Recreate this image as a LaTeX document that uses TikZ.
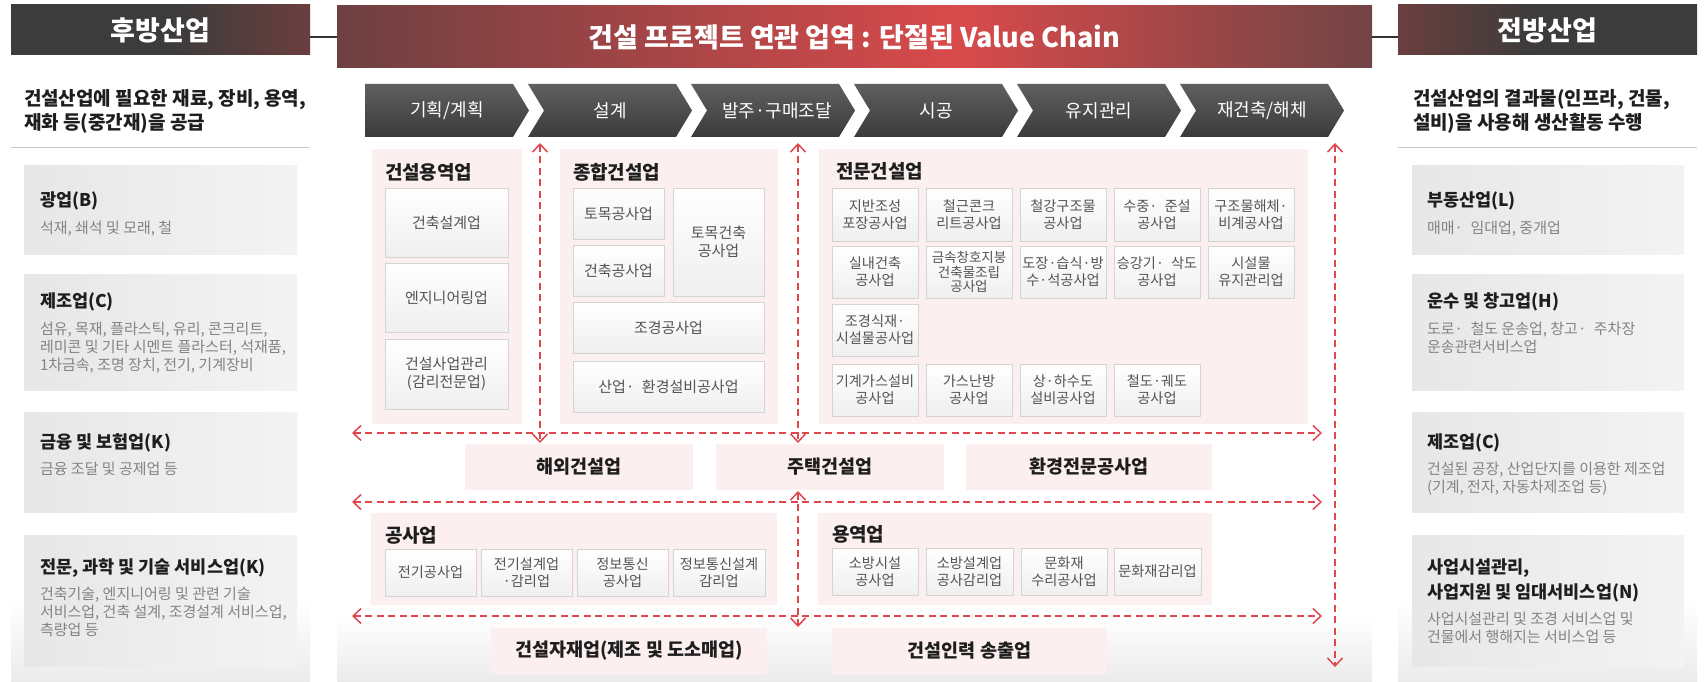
\documentclass[tikz,border=0pt]{standalone}
\usepackage{fontspec}
\setmainfont{Noto Sans CJK KR}
\usetikzlibrary{arrows.meta}
\definecolor{hdark}{HTML}{3C3C3C}
\definecolor{hbrown}{HTML}{6B3E3E}
\definecolor{cbrownL}{HTML}{6E4042}
\definecolor{cbrownR}{HTML}{724445}
\definecolor{hred}{HTML}{D94A4B}
\definecolor{pinkbg}{HTML}{FCEFEF}
\definecolor{arrowred}{HTML}{E0474D}
\definecolor{chevtop}{HTML}{5F5F5F}
\definecolor{chevbot}{HTML}{3B3B3B}
\definecolor{sideL}{HTML}{E7E7E7}
\definecolor{sideR}{HTML}{F3F3F3}
\definecolor{subbot}{HTML}{EFEFEF}
\definecolor{subline}{HTML}{D4D4D4}
\definecolor{subtxt}{HTML}{545454}
\definecolor{sidetxt}{HTML}{838383}
\definecolor{inktxt}{HTML}{1E1E1E}
\definecolor{panelgray}{HTML}{EBEBEB}
\definecolor{sepgray}{HTML}{C8C8C8}
\definecolor{hline}{HTML}{333333}
\pgfdeclarehorizontalshading{lhdrshade}{100bp}{color(0bp)=(hdark); color(25bp)=(hdark); color(52bp)=(hdark); color(75bp)=(hbrown); color(100bp)=(hbrown)}
\pgfdeclarehorizontalshading{rhdrshade}{100bp}{color(0bp)=(hbrown); color(25bp)=(hbrown); color(48bp)=(hdark); color(75bp)=(hdark); color(100bp)=(hdark)}
\pgfdeclarehorizontalshading{chdrshade}{100bp}{color(0bp)=(cbrownL); color(25bp)=(cbrownL); color(55bp)=(hred); color(75bp)=(cbrownR); color(100bp)=(cbrownR)}
\newcommand{\fsz}[2]{\fontsize{#1}{#2}\selectfont}
\newcommand{\mkbox}[7][]{%
  \pgfmathsetmacro{\rbcx}{(#3+#5)/2}%
  \pgfmathsetmacro{\rbcy}{(#4+#6)/2}%
  \pgfmathsetmacro{\rbw}{#5-#3}%
  \pgfmathsetmacro{\rbh}{#6-#4}%
  \node[#1, minimum width=\rbw pt, minimum height=\rbh pt] (#2) at (\rbcx,\rbcy) {#7};}
\newcommand{\chevpath}[2]{\shade[chevfill] (#1,84) -- ++(148,0) -- ++(16,26.5) -- ++(-16,26.5) -- ++(-148,0) -- ++(#2,-26.5) -- cycle;}
\tikzset{
  every node/.style={inner sep=0pt, outer sep=0pt},
  hdr/.style={shade, text=white, font=\bfseries\fsz{27}{30}},
  chevfill/.style={top color=chevtop, bottom color=chevbot},
  chevtext/.style={text=white, font=\fsz{18}{20}},
  pinksec/.style={fill=pinkbg, draw=none},
  sectitle/.style={anchor=base west, text=inktxt, font=\bfseries\fsz{19}{22}},
  subbox/.style={draw=subline, line width=0.8pt, top color=white, bottom color=subbot, text=subtxt, align=center, font=\fsz{15}{17.5}},
  tight/.style={font=\fsz{14.2}{16.8}},
  midbox/.style={fill=pinkbg, draw=none, text=inktxt, font=\bfseries\fsz{18.5}{21}},
  sidebox/.style={left color=sideL, right color=sideR, draw=none},
  sidehead/.style={anchor=base west, text=inktxt, font=\bfseries\fsz{19}{22}},
  sidetitle/.style={anchor=base west, text=inktxt, font=\bfseries\fsz{17.5}{20}},
  sidesub/.style={anchor=base west, text=sidetxt, font=\fsz{15}{17}},
  dasharrow/.style={draw=arrowred, line width=1.5pt, dash pattern=on 7pt off 4.5pt,
     arrows={Straight Barb[length=8pt,width=15pt]-Straight Barb[length=8pt,width=15pt]}},
  hdrline/.style={draw=hline, line width=1.5pt}
}
\begin{document}
\begin{tikzpicture}[x=1pt,y=-1pt]
\useasboundingbox (0,0) rectangle (1705,682);
% panel bottoms
\shade[top color=white,bottom color=panelgray] (11,600) rectangle (310,682);
\shade[top color=white,bottom color=panelgray] (1398,600) rectangle (1697,682);
\shade[top color=white,bottom color=panelgray] (337,615) rectangle (1372,682);
% headers
\mkbox[hdr, shading=lhdrshade]{lhdr}{11}{5}{310}{55}{후방산업}
\mkbox[hdr, shading=chdrshade]{chdr}{337}{6}{1372}{68}{건설 프로젝트 연관 업역 : 단절된 Value Chain}
\mkbox[hdr, shading=rhdrshade]{rhdr}{1398}{5}{1697}{55}{전방산업}
\draw[hdrline] (lhdr.east |- chdr.west) -- (chdr.west);
\draw[hdrline] (chdr.east) -- (rhdr.west |- chdr.east);
% ---------- left column
\node[sidehead] (lsub1) at (24,106) {건설산업에 필요한 재료, 장비, 용역,};
\node[sidehead] (lsub2) at (24,130) {재화 등(중간재)을 공급};
\draw[draw=sepgray, line width=0.8pt] (11,147) -- (310,147);
\mkbox[sidebox]{lb1}{24}{165}{297}{254}{}
\node[sidetitle] (lb1t) at (40,206) {광업(B)};
\node[sidesub] (lb1s) at (40,233) {석재, 쇄석 및 모래, 철};
\mkbox[sidebox]{lb2}{24}{274}{297}{390}{}
\node[sidetitle] (lb2t) at (40,307) {제조업(C)};
\node[sidesub] (lb2s1) at (40,334) {섬유, 목재, 플라스틱, 유리, 콘크리트,};
\node[sidesub] (lb2s2) at (40,352) {레미콘 및 기타 시멘트 플라스터, 석재품,};
\node[sidesub] (lb2s3) at (40,370) {1차금속, 조명 장치, 전기, 기계장비};
\mkbox[sidebox]{lb3}{24}{412}{297}{512}{}
\node[sidetitle] (lb3t) at (40,448) {금융 및 보험업(K)};
\node[sidesub] (lb3s) at (40,474) {금융 조달 및 공제업 등};
\mkbox[sidebox]{lb4}{24}{535}{297}{666}{}
\node[sidetitle] (lb4t) at (40,573) {전문, 과학 및 기술 서비스업(K)};
\node[sidesub] (lb4s1) at (40,599) {건축기술, 엔지니어링 및 관련 기술};
\node[sidesub] (lb4s2) at (40,617) {서비스업, 건축 설계, 조경설계 서비스업,};
\node[sidesub] (lb4s3) at (40,635) {측량업 등};
% ---------- right column
\node[sidehead] (rsub1) at (1413,106) {건설산업의 결과물(인프라, 건물,};
\node[sidehead] (rsub2) at (1413,130) {설비)을 사용해 생산활동 수행};
\draw[draw=sepgray, line width=0.8pt] (1398,147) -- (1697,147);
\mkbox[sidebox]{rb1}{1412}{165}{1684}{254}{}
\node[sidetitle] (rb1t) at (1427,206) {부동산업(L)};
\node[sidesub] (rb1s) at (1427,233) {매매·\enspace 임대업, 중개업};
\mkbox[sidebox]{rb2}{1412}{274}{1684}{390}{}
\node[sidetitle] (rb2t) at (1427,307) {운수 및 창고업(H)};
\node[sidesub] (rb2s1) at (1427,334) {도로·\enspace 철도 운송업, 창고·\enspace 주차장};
\node[sidesub] (rb2s2) at (1427,352) {운송관련서비스업};
\mkbox[sidebox]{rb3}{1412}{412}{1684}{512}{}
\node[sidetitle] (rb3t) at (1427,448) {제조업(C)};
\node[sidesub] (rb3s1) at (1427,474) {건설된 공장, 산업단지를 이용한 제조업};
\node[sidesub] (rb3s2) at (1427,492) {(기계, 전자, 자동차제조업 등)};
\mkbox[sidebox]{rb4}{1412}{535}{1684}{666}{}
\node[sidetitle] (rb4t1) at (1427,573) {사업시설관리,};
\node[sidetitle] (rb4t2) at (1427,598) {사업지원 및 임대서비스업(N)};
\node[sidesub] (rb4s1) at (1427,624) {사업시설관리 및 조경 서비스업 및};
\node[sidesub] (rb4s2) at (1427,642) {건물에서 행해지는 서비스업 등};
% ---------- chevrons
\chevpath{365}{0}
\chevpath{528}{16}
\chevpath{691}{16}
\chevpath{854}{16}
\chevpath{1017}{16}
\chevpath{1180}{16}
\node[chevtext] (ch1) at (447,111) {기획/계획};
\node[chevtext] (ch2) at (610,111) {설계};
\node[chevtext] (ch3) at (777,111) {발주·구매조달};
\node[chevtext] (ch4) at (936,111) {시공};
\node[chevtext] (ch5) at (1099,111) {유지관리};
\node[chevtext] (ch6) at (1262,111) {재건축/해체};
% ---------- upper sections
\mkbox[pinksec]{s1}{372}{149}{522}{424}{}
\mkbox[pinksec]{s2}{560}{149}{778}{424}{}
\mkbox[pinksec]{s3}{819}{149}{1308}{424}{}
\node[sectitle] (s1t) at (385,179) {건설용역업};
\node[sectitle] (s2t) at (573,179) {종합건설업};
\node[sectitle] (s3t) at (836,178) {전문건설업};
\mkbox[subbox]{a1}{385}{188}{508}{257}{건축설계업}
\mkbox[subbox]{a2}{385}{263}{508}{332}{엔지니어링업}
\mkbox[subbox]{a3}{385}{339}{508}{409}{건설사업관리\\(감리전문업)}
\mkbox[subbox]{g1}{573}{188}{664}{239}{토목공사업}
\mkbox[subbox]{g2}{573}{245}{664}{296}{건축공사업}
\mkbox[subbox]{g3}{673}{188}{764}{296}{토목건축\\공사업}
\mkbox[subbox]{g4}{573}{302}{764}{353}{조경공사업}
\mkbox[subbox]{g5}{573}{361}{764}{412}{산업·\enspace 환경설비공사업}
% 전문건설업 grid
\mkbox[subbox, tight]{p11}{832}{188}{918}{241}{지반조성\\포장공사업}
\mkbox[subbox, tight]{p12}{926}{188}{1012}{241}{철근콘크\\리트공사업}
\mkbox[subbox, tight]{p13}{1020}{188}{1106}{241}{철강구조물\\공사업}
\mkbox[subbox, tight]{p14}{1114}{188}{1200}{241}{수중·\enspace 준설\\공사업}
\mkbox[subbox, tight]{p15}{1208}{188}{1294}{241}{구조물해체·\\비계공사업}
\mkbox[subbox, tight]{p21}{832}{246}{918}{298}{실내건축\\공사업}
\mkbox[subbox, font=\fsz{13.5}{14.8}]{p22}{926}{246}{1012}{298}{금속창호지붕\\건축물조립\\공사업}
\mkbox[subbox, tight]{p23}{1020}{246}{1106}{298}{도장·습식·방\\수·석공사업}
\mkbox[subbox, tight]{p24}{1114}{246}{1200}{298}{승강기·\enspace 삭도\\공사업}
\mkbox[subbox, tight]{p25}{1208}{246}{1294}{298}{시설물\\유지관리업}
\mkbox[subbox, tight]{p31}{832}{304}{918}{356}{조경식재·\\시설물공사업}
\mkbox[subbox, tight]{p41}{832}{364}{918}{416}{기계가스설비\\공사업}
\mkbox[subbox, tight]{p42}{926}{364}{1012}{416}{가스난방\\공사업}
\mkbox[subbox, tight]{p43}{1020}{364}{1106}{416}{상·하수도\\설비공사업}
\mkbox[subbox, tight]{p44}{1114}{364}{1200}{416}{철도·궤도\\공사업}
% ---------- middle row
\mkbox[midbox]{m1}{465}{444}{693}{490}{해외건설업}
\mkbox[midbox]{m2}{716}{444}{944}{490}{주택건설업}
\mkbox[midbox]{m3}{966}{444}{1212}{490}{환경전문공사업}
% ---------- lower sections
\mkbox[pinksec]{s4}{371}{513}{777}{605}{}
\mkbox[pinksec]{s5}{818}{513}{1212}{605}{}
\node[sectitle] (s4t) at (385,542) {공사업};
\node[sectitle] (s5t) at (832,541) {용역업};
\mkbox[subbox, tight]{k1}{385}{549}{476}{596}{전기공사업}
\mkbox[subbox, tight]{k2}{481}{549}{572}{596}{전기설계업\\·감리업}
\mkbox[subbox, tight]{k3}{577}{549}{668}{596}{정보통신\\공사업}
\mkbox[subbox, tight]{k4}{673}{549}{765}{596}{정보통신설계\\감리업}
\mkbox[subbox, tight]{y1}{832}{548}{918}{595}{소방시설\\공사업}
\mkbox[subbox, tight]{y2}{926}{548}{1013}{595}{소방설계업\\공사감리업}
\mkbox[subbox, tight]{y3}{1021}{548}{1107}{595}{문화재\\수리공사업}
\mkbox[subbox, tight]{y4}{1114}{548}{1201}{595}{문화재감리업}
\mkbox[midbox]{b1}{491}{628}{767}{674}{건설자재업(제조 및 도소매업)}
\mkbox[midbox]{b2}{832}{628}{1107}{674}{건설인력 송출업}
% ---------- dashed arrows
\coordinate (h1l) at (352,433); \coordinate (h1r) at (1322,433);
\coordinate (h2l) at (352,502); \coordinate (h2r) at (1322,502);
\coordinate (h3l) at (352,616); \coordinate (h3r) at (1322,616);
\coordinate (v1t) at (540,143); \coordinate (v1b) at (540,443);
\coordinate (v2t) at (798,143); \coordinate (v2b) at (798,443);
\coordinate (v4t) at (798,491); \coordinate (v4b) at (798,627);
\coordinate (v3t) at (1335,143); \coordinate (v3b) at (1335,667);
\draw[dasharrow] (h1l) -- (h1r);
\draw[dasharrow] (h2l) -- (h2r);
\draw[dasharrow] (h3l) -- (h3r);
\draw[dasharrow] (v1t) -- (v1b);
\draw[dasharrow] (v2t) -- (v2b);
\draw[dasharrow] (v4t) -- (v4b);
\draw[dasharrow] (v3t) -- (v3b);
\end{tikzpicture}
\end{document}
